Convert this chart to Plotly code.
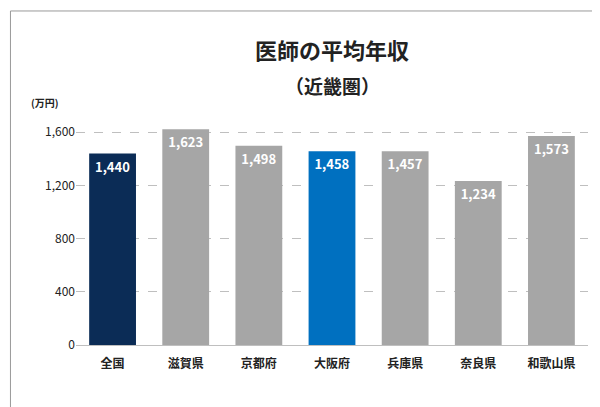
import plotly.graph_objects as go

regions = ['全国', '滋賀県', '京都府', '大阪府', '兵庫県', '奈良県', '和歌山県']
salary = [1440, 1623, 1498, 1458, 1457, 1234, 1573]
colors = ['#0b2c56', '#a6a6a6', '#a6a6a6', '#0070c0', '#a6a6a6', '#a6a6a6', '#a6a6a6']

font = 'Noto Sans CJK JP'

fig = go.Figure(go.Bar(
    x=regions, y=salary,
    marker=dict(color=colors, line=dict(width=0)),
    text=[f'{v:,}' for v in salary],
    textposition='inside', insidetextanchor='end',
    textfont=dict(color='white', size=13, family=font),
    texttemplate='<b>%{text}</b>',
))

fig.update_layout(
    width=600, height=407,
    margin=dict(l=68, r=20, t=111, b=70),
    plot_bgcolor='white', paper_bgcolor='white',
    bargap=0.36,
    showlegend=False,
    font=dict(family=font, color='#333333'),
    xaxis=dict(showline=False, ticks='', tickfont=dict(size=12, color='#222222'),
               tickprefix='<b>', ticksuffix='</b>', ticklabelstandoff=10),
    yaxis=dict(range=[0, 1700], tickvals=[0, 400, 800, 1200, 1600],
               tickformat=',', tickprefix='<b>', ticksuffix='</b>',
               tickfont=dict(size=12, color='#222222'),
               gridcolor='#bfbfbf', griddash='dash', gridwidth=1,
               zeroline=True, zerolinecolor='#bfbfbf', zerolinewidth=1),
    shapes=[dict(type='rect', xref='paper', yref='paper', x0=-0.128, x1=1.033, y0=-0.296, y1=1.478,
                 line=dict(color='#999999', width=1))],
    annotations=[
        dict(text='<b>医師の平均年収</b>', xref='paper', yref='paper', x=0.5, y=1.31,
             xanchor='center', yanchor='middle', showarrow=False,
             font=dict(size=22, color='#222222')),
        dict(text='<b>（近畿圏）</b>', xref='paper', yref='paper', x=0.5, y=1.15,
             xanchor='center', yanchor='middle', showarrow=False,
             font=dict(size=19, color='#222222')),
        dict(text='<b>(万円)</b>', xref='paper', yref='paper', x=-0.06, y=1.03,
             xanchor='center', yanchor='bottom', showarrow=False,
             font=dict(size=10, color='#222222')),
    ],
)

fig.write_html('out.html')
